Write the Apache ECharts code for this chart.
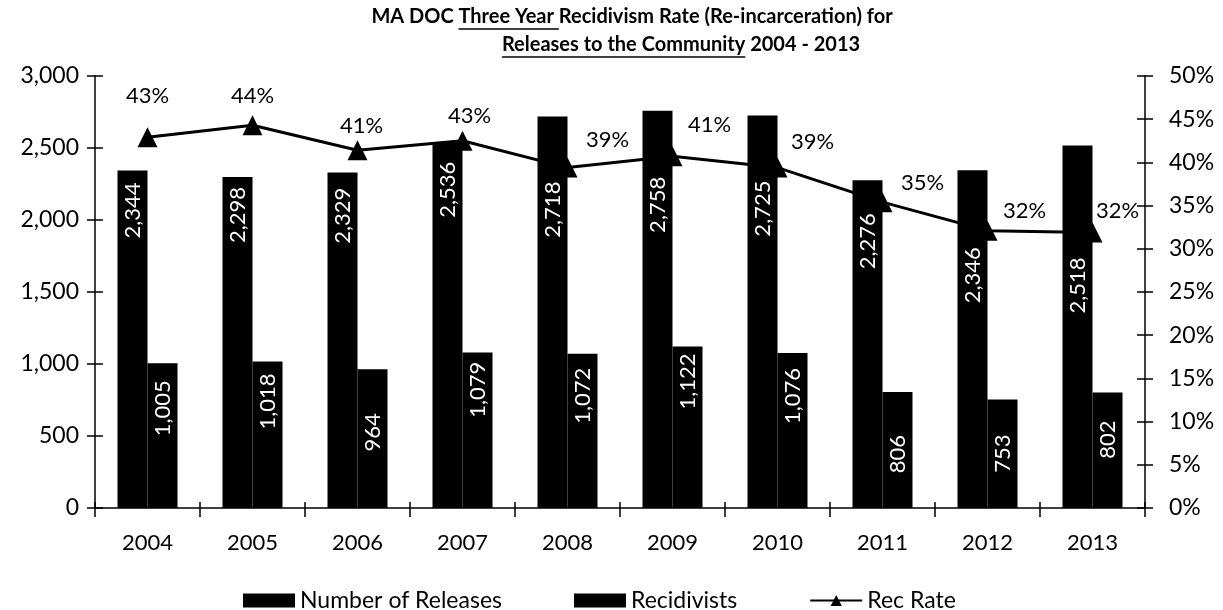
<!DOCTYPE html>
<html><head><meta charset="utf-8">
<script src="https://cdn.jsdelivr.net/npm/echarts@6/dist/echarts.min.js"></script>
<style>html,body{margin:0;padding:0;background:#fff}#c{width:1223px;height:610px}</style>
</head><body><div id="c"></div>
<script>
const years = ['2004','2005','2006','2007','2008','2009','2010','2011','2012','2013'];
const releases = [2344, 2298, 2329, 2536, 2718, 2758, 2725, 2276, 2346, 2518];
const recidivists = [1005, 1018, 964, 1079, 1072, 1122, 1076, 806, 753, 802];
const recRate = [42.9, 44.3, 41.4, 42.5, 39.4, 40.7, 39.4, 35.4, 32.1, 31.9];
const seriesNames = ['Number of Releases', 'Recidivists', 'Rec Rate'];
const titleLine1 = ['MA DOC ', 'Three Year ', 'Recidivism Rate (Re-incarceration) for'];
const titleLine2 = ['Releases to the Community', ' 2004 - 2013'];
// label placement tweaks (styling only)
const rateLabelShift = [[0,-17],[0,-5],[4,0],[7,-1],[40,-4],[37,-7],[35,-2],[40,5],[37,4],[25,3]];
const releaseLabelDrop = [12, 10, 15, 19, 65, 66, 65, 33, 77, 112];
const recidLabelDrop = [17, 12, 44, 9, 14, 7, 15, 43, 35, 28];

const FONT = 'Lato';
const chart = echarts.init(document.getElementById('c'), null, {renderer:'canvas'});
const ctx = document.createElement('canvas').getContext('2d');
function tw(t, f){ ctx.font = f; return ctx.measureText(t).width; }

const tFont = 'bold 20px ' + FONT;
const l1 = titleLine1.join(''), l2 = titleLine2.join('');
const c1 = 632, c2 = 681, y1 = 17, y2 = 45;
const w1 = tw(l1, tFont), w2 = tw(l2, tFont);
const u1s = c1 - w1/2 + tw(titleLine1[0], tFont), u1e = u1s + tw(titleLine1[1], tFont);
const u2s = c2 - w2/2, u2e = u2s + tw(titleLine2[0], tFont);

const axisBlack = {lineStyle:{color:'#000', width:1.5}};
const tickOut = {show:true, length:8, inside:false, lineStyle:{color:'#000', width:1.5}};
const tickIn = {show:true, length:8, inside:true, lineStyle:{color:'#000', width:1.5}};
const labelStyle = {color:'#000', fontFamily:FONT, fontSize:22};

function barLabel(drop){
  return {show:true, position:'insideTop', rotate:90, align:'right', verticalAlign:'middle', distance:drop,
    color:'#fff', fontFamily:FONT, fontSize:22, formatter:p=>p.value.toLocaleString('en-US')};
}

const option = {
  backgroundColor:'#fff',
  animation:false,
  textStyle:{fontFamily:FONT},
  grid:{left:95, right:78, top:76, bottom:102, containLabel:false},
  graphic:[
    {type:'text', style:{text:l1, x:c1, y:y1, font:tFont, fill:'#000', textAlign:'center', textVerticalAlign:'middle'}},
    {type:'text', style:{text:l2, x:c2, y:y2, font:tFont, fill:'#000', textAlign:'center', textVerticalAlign:'middle'}},
    {type:'line', shape:{x1:u1s, y1:y1+12, x2:u1e, y2:y1+12}, style:{stroke:'#000', lineWidth:1.5}},
    {type:'line', shape:{x1:u2s, y1:y2+12, x2:u2e, y2:y2+12}, style:{stroke:'#000', lineWidth:1.5}}
  ],
  legend:{
    left:238, top:584,
    itemWidth:52, itemHeight:14, itemGap:72,
    textStyle:{color:'#000', fontFamily:FONT, fontSize:23},
    data:[{name:seriesNames[0], icon:'rect'},{name:seriesNames[1], icon:'rect'},{name:seriesNames[2]}]
  },
  xAxis:[
    {type:'category', data:years, position:'bottom', axisLine:axisBlack,
     axisTick:{...tickOut, length:9, alignWithLabel:false},
     axisLabel:{...labelStyle, margin:24}, splitLine:{show:false}},
    {type:'category', data:years, position:'bottom', axisLine:{show:false},
     axisTick:{...tickIn, length:6, alignWithLabel:false}, axisLabel:{show:false}, splitLine:{show:false}}
  ],
  yAxis:[
    {type:'value', min:0, max:3000, interval:500, position:'left', axisLine:{show:true, ...axisBlack},
     axisTick:tickOut, splitLine:{show:false},
     axisLabel:{...labelStyle, fontSize:23, margin:16, formatter:v=>v.toLocaleString('en-US')}},
    {type:'value', min:0, max:50, interval:5, position:'right', axisLine:{show:true, ...axisBlack},
     axisTick:tickOut, splitLine:{show:false},
     axisLabel:{...labelStyle, fontSize:23, margin:24, formatter:'{value}%'}},
    {type:'value', min:0, max:3000, interval:500, position:'left', axisLine:{show:false},
     axisTick:tickIn, splitLine:{show:false}, axisLabel:{show:false}},
    {type:'value', min:0, max:50, interval:5, position:'right', axisLine:{show:false},
     axisTick:tickIn, splitLine:{show:false}, axisLabel:{show:false}}
  ],
  series:[
    {name:seriesNames[0], type:'bar', barWidth:30, barGap:'0%', itemStyle:{color:'#000'},
     data:releases.map((v,i)=>({value:v, label:barLabel(releaseLabelDrop[i])})),
     label:barLabel(12)},
    {name:seriesNames[1], type:'bar', barWidth:30, barGap:'0%', itemStyle:{color:'#000'},
     data:recidivists.map((v,i)=>({value:v, label:barLabel(recidLabelDrop[i])})),
     label:barLabel(12)},
    {name:seriesNames[2], type:'line', yAxisIndex:1, z:5,
     data:recRate.map((v,i)=>({value:v, label:{offset:rateLabelShift[i]}})),
     symbol:'triangle', symbolSize:20, lineStyle:{color:'#000', width:3}, itemStyle:{color:'#000'},
     label:{show:true, position:'top', distance:3, color:'#000', fontFamily:FONT, fontSize:22,
       formatter:p=>Math.round(p.value)+'%'}}
  ]
};
chart.setOption(option);
</script></body></html>
